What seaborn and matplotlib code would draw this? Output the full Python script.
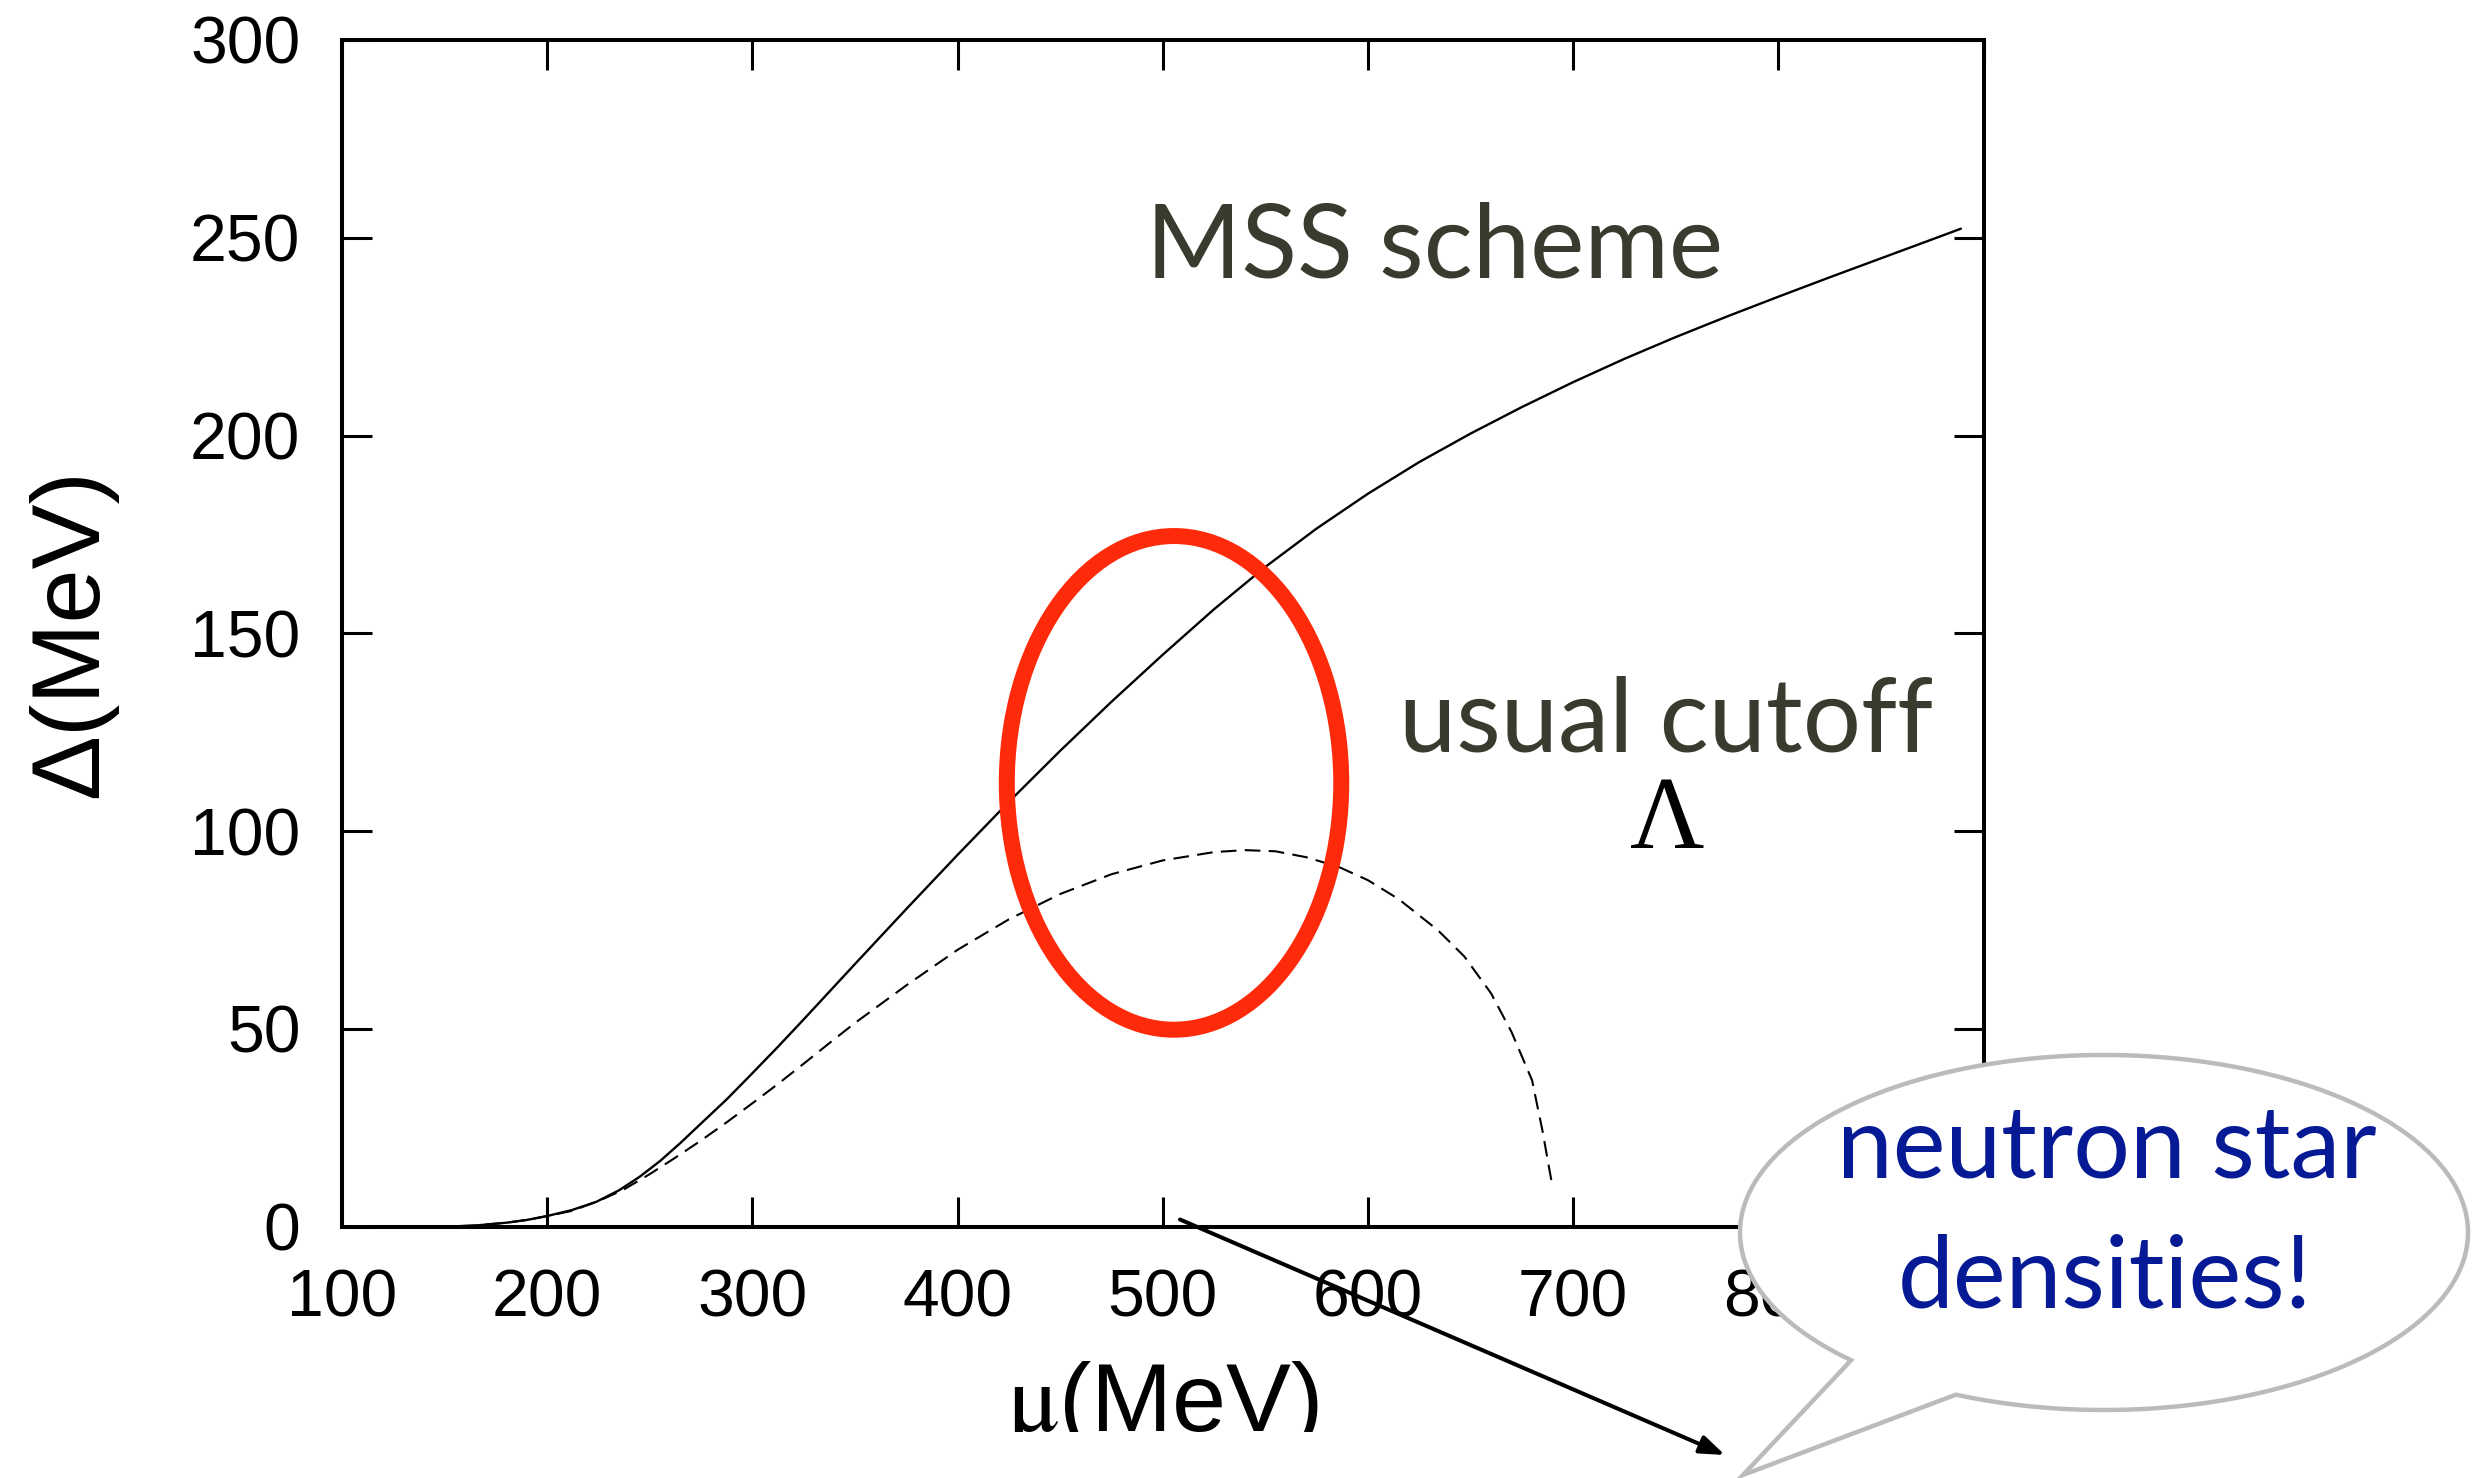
import numpy as np
import matplotlib
matplotlib.use("Agg")
import matplotlib.pyplot as plt
import seaborn as sns
from matplotlib.patches import Ellipse, Polygon, FancyArrowPatch
from matplotlib.transforms import Bbox, TransformedBbox

# Gap Delta(mu) in the MSS regularisation scheme (solid line)
mu_mss = [100, 150, 165, 180, 190, 200, 212, 224, 235, 245, 255, 265, 275,
          287.5, 300, 312.5, 325, 337.5, 350, 375, 400, 425, 450, 475, 500,
          525, 550, 575, 600, 625, 650, 675, 700, 725, 750, 775, 800, 825,
          850, 875, 889]
gap_mss = [0, 0, 0.3, 1.0, 1.7, 2.7, 4.2, 6.3, 9.2, 12.6, 16.6, 21.2, 26.1,
           32.2, 38.8, 45.5, 52.4, 59.4, 66.4, 80.3, 94.0, 107.4, 120.3,
           132.7, 144.6, 156.1, 166.8, 176.5, 185.3, 193.3, 200.5, 207.2,
           213.5, 219.4, 224.9, 230.1, 235.1, 240.0, 244.8, 249.6, 252.3]

# Gap Delta(mu) with the usual three-momentum cutoff Lambda (dashed line)
mu_cut = [100, 150, 165, 180, 190, 200, 212, 225, 237, 250, 262, 275, 287.5,
          300, 312.5, 325, 337.5, 350, 375, 400, 425, 450, 475, 500, 525, 540,
          555, 570, 586, 600, 615, 634, 647, 660, 670, 680, 685, 689.5]
gap_cut = [0, 0, 0.3, 1.0, 1.7, 2.7, 4.0, 6.5, 9.3, 13.3, 17.3, 21.8, 26.4,
           31.2, 36.1, 41.2, 46.4, 51.5, 61.0, 70.0, 77.7, 84.1, 89.1, 92.6,
           94.7, 95.2, 94.9, 93.4, 90.9, 87.6, 82.8, 75.0, 68.3, 59.0, 49.2,
           37.0, 24.4, 11.4]

x_ticks = [100, 200, 300, 400, 500, 600, 700, 800, 900]
y_ticks = [0, 50, 100, 150, 200, 250, 300]

sns.set_theme(style="ticks")
plt.rcParams["font.family"] = ["Liberation Sans", "DejaVu Sans"]
plt.rcParams["mathtext.fontset"] = "stix"

W, H = 2491, 1478
fig = plt.figure(figsize=(W / 100, H / 100), dpi=100)
fig.patch.set_facecolor("white")
ax = fig.add_axes([342 / W, 251.3 / H, 1641.5 / W, 1186.7 / H])
ax.set_facecolor("white")

sns.lineplot(x=mu_mss, y=gap_mss, ax=ax, color="black", lw=1.7, zorder=3)
sns.lineplot(x=mu_cut, y=gap_cut, ax=ax, color="black", lw=1.5,
             linestyle=(0, (7.5, 4)), zorder=3)

ax.set_xlim(100, 900)
ax.set_ylim(0, 300)
ax.set_xticks(x_ticks)
ax.set_yticks(y_ticks)
ax.tick_params(direction="in", length=21.6, width=2.2, pad=30,
               labelsize=47.5, colors="black", top=True, right=True,
               labeltop=False, labelright=False)
for s in ax.spines.values():
    s.set_linewidth(2.9)
    s.set_color("black")
    s.set_visible(True)

# axis labels
yl = ax.set_ylabel("Δ(MeV)", fontsize=70, color="black")
yl.set_verticalalignment("baseline")
ax.yaxis.set_label_coords(-0.1493, 0.5)

xl = ax.set_xlabel("$\\mathrm{\\mu}$(MeV)", fontsize=70, color="black")
xl.set_verticalalignment("baseline")
ax.xaxis.set_label_coords(0.5, -0.1722)
xl.set_clip_box(TransformedBbox(Bbox([[0, 46 / H], [1, 1]]), fig.transFigure))
xl.set_clip_on(True)

# highlighted region
ax.add_patch(Ellipse((505.5, 112.2), width=163, height=124.8, fill=False,
                     edgecolor="#ff2a0a", lw=11.5, zorder=4))

# curve annotations
label_color = "#3a3a2e"
fig.text(1146 / W, 1 - 277 / H, "MSS scheme", family="Lato", fontsize=74,
         color=label_color, ha="left", va="baseline")
fig.text(1399 / W, 1 - 752 / H, "usual cutoff", family="Lato", fontsize=74,
         color=label_color, ha="left", va="baseline")
fig.text(1667 / W, 1 - 848 / H, "Λ", family="Liberation Serif", fontsize=74,
         color="black", ha="center", va="baseline")

# pointer arrow
fig.add_artist(FancyArrowPatch((1180 / W, 1 - 1219.5 / H), (1725 / W, 1 - 1455 / H),
                               transform=fig.transFigure,
                               arrowstyle="-|>,head_length=15,head_width=5.5",
                               mutation_scale=1, lw=2.9, color="black",
                               shrinkA=0, shrinkB=0, zorder=9))

# speech bubble
cx, cy, a, b = 2104, 245.5, 364, 177.5
t = np.radians(np.linspace(246, 586, 500))
pts = np.column_stack([cx + a * np.cos(t), cy + b * np.sin(t)])
pts = np.vstack([pts, [[1743, 3]]]) / [W, H]
fig.add_artist(Polygon(pts, closed=True, transform=fig.transFigure,
                       facecolor="white", edgecolor="#bbbbbb", lw=3.2,
                       joinstyle="miter", zorder=10))
navy = "#061a96"
fig.text(2107 / W, 1 - 1178 / H, "neutron star", family="Lato", fontsize=72,
         color=navy, ha="center", va="baseline", zorder=11)
fig.text(2105 / W, 1 - 1308 / H, "densities!", family="Lato", fontsize=72,
         color=navy, ha="center", va="baseline", zorder=11)

fig.savefig("out.png", dpi=100, facecolor="white")
